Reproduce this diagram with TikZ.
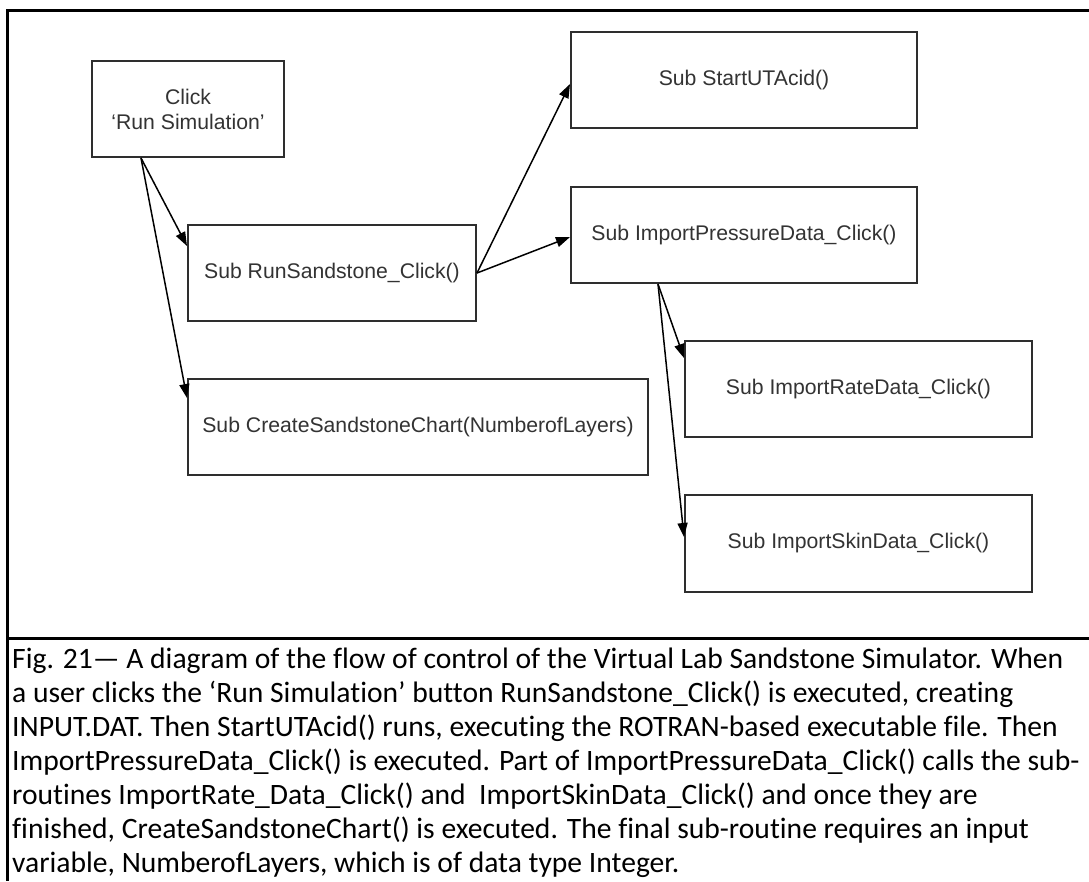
\documentclass[tikz,border=0pt]{standalone}
\usepackage{fontspec}
\usetikzlibrary{arrows.meta}
\newfontfamily\boxfont{Liberation Sans}
\newfontfamily\capfont[Ligatures=CommonOff]{Carlito}
\definecolor{boxgray}{HTML}{2E2E2E}
\definecolor{labelgray}{HTML}{333333}
\tikzset{
  proc/.style={draw=boxgray, line width=2pt, inner sep=0pt, align=center,
    text=labelgray, font=\boxfont\fontsize{21.2}{25}\selectfont},
  flow/.style={draw=black, line width=1.5pt, -{Triangle[length=14pt,width=10pt]}},
  frame/.style={draw=black, line width=3pt},
  capline/.style={anchor=base west, inner sep=0pt, text=black,
    font=\capfont\fontsize{29.6}{34}\selectfont}
}
\begin{document}
\begin{tikzpicture}[x=1pt, y=-1pt]
\useasboundingbox (0,0) rectangle (1089,881);
\fill[white] (0,0) rectangle (1089,881);

% figure frame and caption separator
\draw[frame] (1089,10) -- (7,10) -- (7,881);
\draw[frame] (7,638) -- (1089,638);

% procedure boxes
\node[proc, minimum width=192pt, minimum height=96pt] (click) at (188,109) {Click\\‘Run Simulation’};
\node[proc, minimum width=288pt, minimum height=96pt] (run) at (332,273) {Sub RunSandstone\_Click()};
\node[proc, minimum width=460pt, minimum height=96pt] (chart) at (418,427) {Sub CreateSandstoneChart(NumberofLayers)};
\node[proc, minimum width=346pt, minimum height=96pt] (start) at (744,80) {Sub StartUTAcid()};
\node[proc, minimum width=346pt, minimum height=96pt] (press) at (744,235) {Sub ImportPressureData\_Click()};
\node[proc, minimum width=347pt, minimum height=96pt] (rate) at (858.5,389) {Sub ImportRateData\_Click()};
\node[proc, minimum width=347pt, minimum height=97pt] (skin) at (858.5,543.5) {Sub ImportSkinData\_Click()};

% connector anchors
\coordinate (clickout) at ([xshift=-47pt]click.south);
\coordinate (runin) at ([yshift=27pt]run.west);
\coordinate (chartin) at ([yshift=29pt]chart.west);
\coordinate (startin) at ([yshift=-4pt]start.west);
\coordinate (pressin) at ([yshift=-2pt]press.west);
\coordinate (pressout) at ([xshift=-86pt]press.south);
\coordinate (ratein) at ([yshift=31pt]rate.west);
\coordinate (skinin) at ([yshift=6.5pt]skin.west);

% control flow
\draw[flow] (clickout) -- (runin);
\draw[flow] (clickout) -- (chartin);
\draw[flow] (run.east) -- (startin);
\draw[flow] (run.east) -- (pressin);
\draw[flow] (pressout) -- (ratein);
\draw[flow] (pressout) -- (skinin);

% caption
\node[capline] (cap1) at (12,668) {Fig. 21— A diagram of the flow of control of the Virtual Lab Sandstone Simulator. When};
\node[capline] (cap2) at (12,702) {a user clicks the ‘Run Simulation’ button RunSandstone\_Click() is executed, creating};
\node[capline] (cap3) at (12,736) {INPUT.DAT. Then StartUTAcid() runs, executing the ROTRAN-based executable file. Then};
\node[capline] (cap4) at (12,770) {ImportPressureData\_Click() is executed. Part of ImportPressureData\_Click() calls the sub-};
\node[capline] (cap5) at (12,804) {routines ImportRate\_Data\_Click() and\ \ ImportSkinData\_Click() and once they are};
\node[capline] (cap6) at (12,838) {finished, CreateSandstoneChart() is executed. The final sub-routine requires an input};
\node[capline] (cap7) at (12,872) {variable, NumberofLayers, which is of data type Integer.};
\end{tikzpicture}
\end{document}
